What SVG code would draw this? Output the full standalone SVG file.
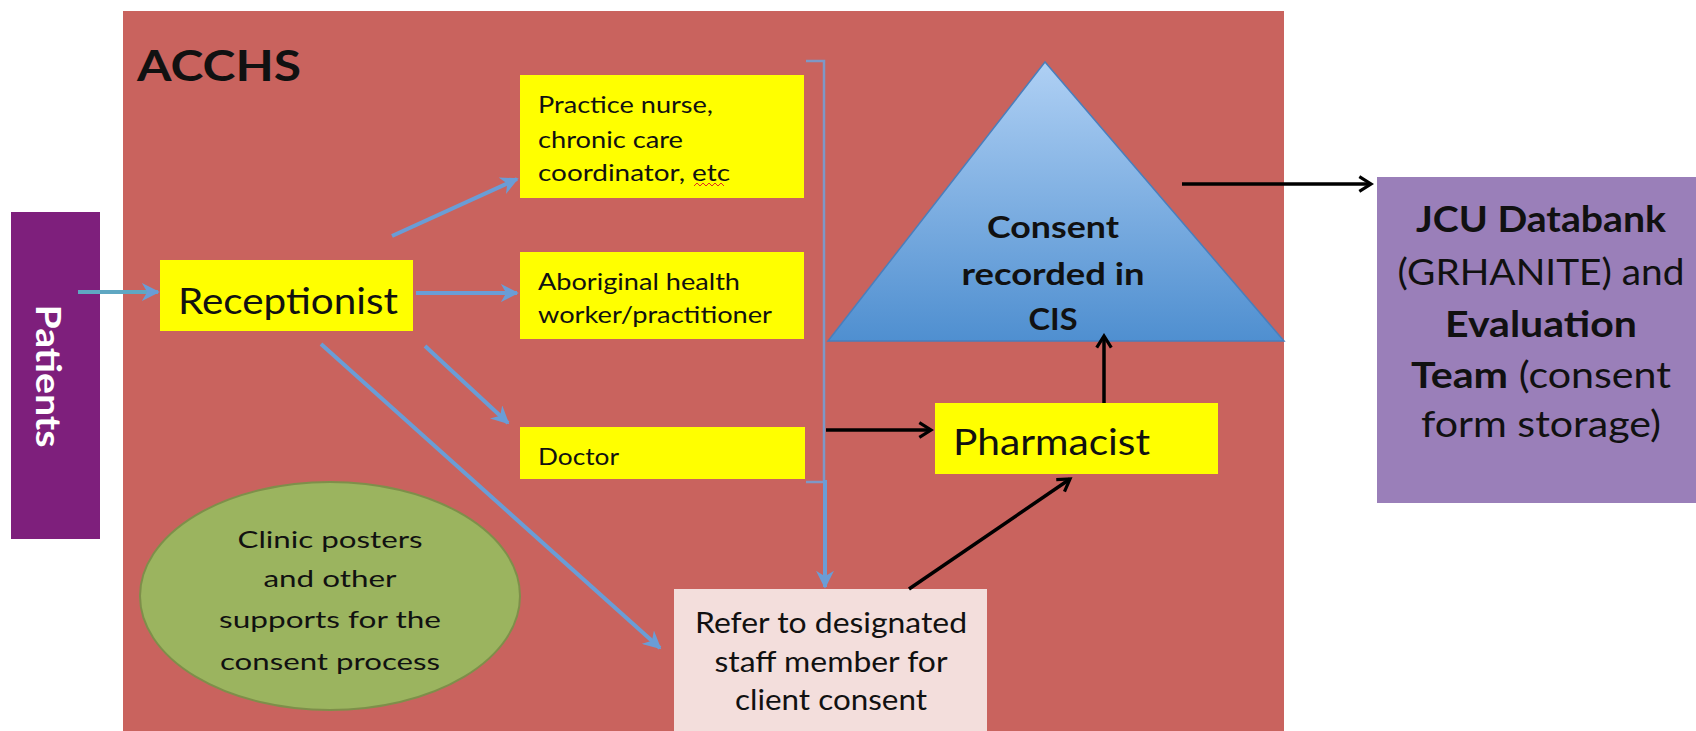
<svg xmlns="http://www.w3.org/2000/svg" width="1696" height="731" viewBox="0 0 1696 731">
  <style>
    text { font-family: "Lato", "Open Sans", "Liberation Sans", sans-serif; fill: #111; }
    .ybox { fill: #FFFF00; }
    .small { font-size: 23px; }
    .big { font-size: 36px; }
    .oval { font-size: 24px; }
    .refer { font-size: 29px; }
    .tri { font-size: 30px; font-weight: bold; }
    .jcu { font-size: 36px; }
    .bold { font-weight: bold; }
    .blue { stroke: #6A9DD6; stroke-width: 4; fill: none; marker-end: url(#blueHead); }
    .black { stroke: #000; stroke-width: 3.5; fill: none; marker-end: url(#blackHead); }
  </style>
  <defs>
    <marker id="blueHead" viewBox="0 0 10 10" refX="9" refY="5" markerWidth="4.5" markerHeight="4.5" orient="auto" markerUnits="strokeWidth">
      <path d="M0,0 L10,5 L0,10 L3,5 Z" fill="#6A9DD6"/>
    </marker>
    <marker id="blackHead" viewBox="0 0 12 12" refX="10" refY="6" markerWidth="5" markerHeight="5" orient="auto" markerUnits="strokeWidth">
      <path d="M2,1 L10,6 L2,11" fill="none" stroke="#000" stroke-width="2.2"/>
    </marker>
    <linearGradient id="triFill" x1="0" y1="0" x2="0" y2="1">
      <stop offset="0" stop-color="#AFD0F4"/>
      <stop offset="1" stop-color="#4F8FD0"/>
    </linearGradient>
  </defs>

  <rect width="1696" height="731" fill="#FFFFFF"/>

  <!-- clinic area -->
  <g id="acchs">
    <rect x="123" y="11" width="1161" height="720" fill="#C9635E"/>
    <text x="137" y="81" font-size="42" font-weight="bold" textLength="164" lengthAdjust="spacingAndGlyphs">ACCHS</text>
  </g>

  <g id="patients">
    <rect x="11" y="212" width="89" height="327" fill="#7E1F7C"/>
    <text transform="translate(36,376) rotate(90)" text-anchor="middle" font-size="34" font-weight="bold" textLength="143" lengthAdjust="spacingAndGlyphs" style="fill:#FFFFFF">Patients</text>
  </g>

  <g id="receptionist">
    <rect class="ybox" x="160" y="260" width="253" height="71"/>
    <text class="big" x="178" y="314" textLength="220" lengthAdjust="spacingAndGlyphs">Receptionist</text>
  </g>

  <g id="practice-nurse">
    <rect class="ybox" x="520" y="75" width="284" height="123"/>
    <text class="small" x="538" y="113" textLength="175" lengthAdjust="spacingAndGlyphs">Practice nurse,</text>
    <text class="small" x="538" y="148" textLength="145" lengthAdjust="spacingAndGlyphs">chronic care</text>
    <text class="small" x="538" y="181" textLength="192" lengthAdjust="spacingAndGlyphs">coordinator, etc</text>
    <path d="M694,186 l3,-3 l3,3 l3,-3 l3,3 l3,-3 l3,3 l3,-3 l3,3 l3,-3 l3,3" fill="none" stroke="#E0301E" stroke-width="1"/>
  </g>

  <g id="health-worker">
    <rect class="ybox" x="520" y="252" width="284" height="87"/>
    <text class="small" x="538" y="290" textLength="202" lengthAdjust="spacingAndGlyphs">Aboriginal health</text>
    <text class="small" x="538" y="323" textLength="234" lengthAdjust="spacingAndGlyphs">worker/practitioner</text>
  </g>

  <g id="doctor">
    <rect class="ybox" x="520" y="427" width="285" height="52"/>
    <text class="small" x="538" y="465" textLength="81" lengthAdjust="spacingAndGlyphs">Doctor</text>
  </g>

  <g id="pharmacist">
    <rect class="ybox" x="935" y="403" width="283" height="71"/>
    <text class="big" x="953" y="455" textLength="197" lengthAdjust="spacingAndGlyphs">Pharmacist</text>
  </g>

  <g id="cis">
    <polygon points="1045,62 828,341 1284,341" fill="url(#triFill)" stroke="#4A7EBB" stroke-width="1.5"/>
    <text class="tri" x="1053" y="238" text-anchor="middle" textLength="132" lengthAdjust="spacingAndGlyphs">Consent</text>
    <text class="tri" x="1053" y="285" text-anchor="middle" textLength="183" lengthAdjust="spacingAndGlyphs">recorded in</text>
    <text class="tri" x="1053" y="330" text-anchor="middle" textLength="49" lengthAdjust="spacingAndGlyphs">CIS</text>
  </g>

  <g id="jcu">
    <rect x="1377" y="177" width="319" height="326" fill="#9A7FB9"/>
    <text class="jcu bold" x="1541" y="232" text-anchor="middle" textLength="250" lengthAdjust="spacingAndGlyphs">JCU Databank</text>
    <text class="jcu" x="1541" y="285" text-anchor="middle" textLength="287" lengthAdjust="spacingAndGlyphs">(GRHANITE) and</text>
    <text class="jcu bold" x="1541" y="337" text-anchor="middle" textLength="192" lengthAdjust="spacingAndGlyphs">Evaluation</text>
    <text class="jcu" x="1541" y="388" text-anchor="middle" textLength="260" lengthAdjust="spacingAndGlyphs"><tspan font-weight="bold">Team</tspan> (consent</text>
    <text class="jcu" x="1541" y="437" text-anchor="middle" textLength="240" lengthAdjust="spacingAndGlyphs">form storage)</text>
  </g>

  <g id="supports">
    <ellipse cx="330" cy="596" rx="190" ry="114" fill="#9BB45F" stroke="#7E8F4A" stroke-width="2"/>
    <text class="oval" x="330" y="548" text-anchor="middle" textLength="185" lengthAdjust="spacingAndGlyphs">Clinic posters</text>
    <text class="oval" x="330" y="587" text-anchor="middle" textLength="133" lengthAdjust="spacingAndGlyphs">and other</text>
    <text class="oval" x="330" y="628" text-anchor="middle" textLength="222" lengthAdjust="spacingAndGlyphs">supports for the</text>
    <text class="oval" x="330" y="670" text-anchor="middle" textLength="220" lengthAdjust="spacingAndGlyphs">consent process</text>
  </g>

  <g id="refer">
    <rect x="674" y="589" width="313" height="142" fill="#F3DEDC"/>
    <text class="refer" x="831" y="633" text-anchor="middle" textLength="272" lengthAdjust="spacingAndGlyphs">Refer to designated</text>
    <text class="refer" x="831" y="672" text-anchor="middle" textLength="233" lengthAdjust="spacingAndGlyphs">staff member for</text>
    <text class="refer" x="831" y="710" text-anchor="middle" textLength="192" lengthAdjust="spacingAndGlyphs">client consent</text>
  </g>

  <g id="connectors">
    <!-- patients into reception -->
    <line x1="78" y1="292" x2="158" y2="292" stroke="#5FA7C2" stroke-width="4" marker-end="url(#blueHead)"/>
    <!-- reception to staff -->
    <line class="blue" x1="392" y1="236" x2="517" y2="179"/>
    <line class="blue" x1="416" y1="293" x2="517" y2="293"/>
    <line class="blue" x1="425" y1="346" x2="508" y2="423"/>
    <line class="blue" x1="321" y1="344" x2="660" y2="648"/>
    <!-- staff bracket down to referral -->
    <path d="M806,61 H824 V482 M806,482 H824" fill="none" stroke="#7E98C6" stroke-width="2.5"/>
    <line class="blue" x1="825" y1="480" x2="825" y2="587"/>
    <!-- to pharmacist and onward -->
    <line class="black" x1="826" y1="430" x2="931" y2="430"/>
    <line class="black" x1="909" y1="589" x2="1070" y2="479"/>
    <line class="black" x1="1104" y1="403" x2="1104" y2="336"/>
    <line class="black" x1="1182" y1="184" x2="1371" y2="184"/>
  </g>
</svg>
